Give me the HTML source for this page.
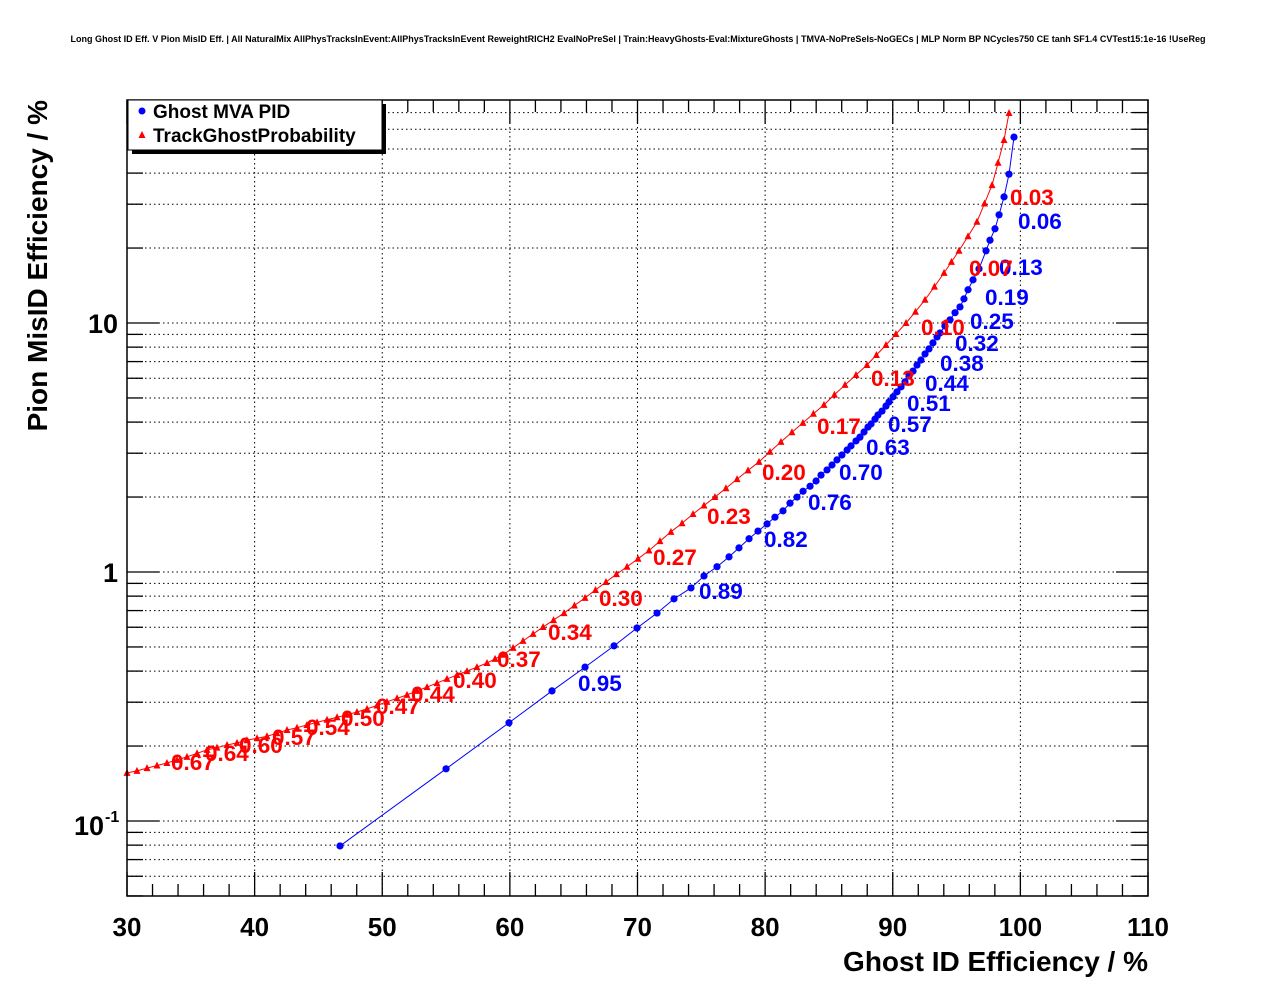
<!DOCTYPE html>
<html><head><meta charset="utf-8"><style>
html,body{margin:0;padding:0;background:#fff;}
svg{display:block;font-family:"Liberation Sans",Arial,sans-serif;}
</style></head><body>
<svg id="chart" width="1276" height="996" viewBox="0 0 1276 996">
<rect x="0" y="0" width="1276" height="996" fill="#fff"/>
<text x="638" y="42" text-anchor="middle" font-size="9" font-weight="bold" textLength="1135" lengthAdjust="spacingAndGlyphs">Long Ghost ID Eff. V Pion MisID Eff. | All NaturalMix AllPhysTracksInEvent:AllPhysTracksInEvent ReweightRICH2 EvalNoPreSel | Train:HeavyGhosts-Eval:MixtureGhosts | TMVA-NoPreSels-NoGECs | MLP Norm BP NCycles750 CE tanh SF1.4 CVTest15:1e-16 !UseReg</text>
<g id="grid"></g>
<g id="ticks"></g>
<g id="series"></g>
<g id="labels"></g>
<rect x="127" y="100" width="1021" height="796" fill="none" stroke="#000" stroke-width="1.5"/>
<text x="1148" y="971" text-anchor="end" font-size="28" font-weight="bold">Ghost ID Efficiency / %</text>
<text transform="translate(47,100) rotate(-90)" text-anchor="end" font-size="28" font-weight="bold">Pion MisID Efficiency / %</text>
<g>
<rect x="132" y="104" width="254" height="50" fill="#000"/>
<rect x="128" y="100" width="254" height="50" fill="#fff" stroke="#000" stroke-width="1"/>
<circle cx="142" cy="111" r="3.5" fill="#0000ff"/>
<text x="153" y="118" font-size="19" font-weight="bold">Ghost MVA PID</text>
<polygon points="142,131 138.5,138 145.5,138" fill="#ff0000"/>
<text x="153" y="142" font-size="19" font-weight="bold">TrackGhostProbability</text>
</g>
</svg>
<script>
const xTicks = [30,40,50,60,70,80,90,100,110];
const blueX = [46.69,55.00,59.93,63.30,65.89,68.16,69.96,71.53,72.86,74.19,75.21,76.23,77.17,77.95,78.74,79.44,80.15,80.77,81.40,81.95,82.50,82.97,83.52,83.99,84.38,84.85,85.24,85.63,86.02,86.42,86.73,87.12,87.43,87.75,88.06,88.30,88.61,88.84,89.16,89.47,89.71,90.02,90.33,90.65,90.96,91.27,91.59,91.90,92.21,92.53,92.84,93.15,93.47,93.70,94.09,94.49,94.88,95.27,95.58,95.90,96.29,96.76,97.31,97.62,98.01,98.33,98.72,99.11,99.50];
const blueY = [0.0794,0.162,0.248,0.333,0.415,0.505,0.596,0.684,0.780,0.863,0.964,1.05,1.15,1.25,1.36,1.46,1.56,1.66,1.76,1.89,2.00,2.11,2.21,2.32,2.45,2.57,2.69,2.82,2.95,3.09,3.21,3.36,3.48,3.65,3.82,3.93,4.11,4.27,4.43,4.64,4.82,5.05,5.29,5.54,5.80,6.12,6.41,6.78,7.10,7.51,7.87,8.32,8.79,9.12,9.72,10.3,11.0,11.6,12.5,13.6,14.9,16.5,19.5,21.5,23.9,27.2,32.1,39.6,55.8];
const redX = [30.00,30.78,31.57,32.35,33.13,33.92,34.70,35.49,36.27,37.05,37.84,38.62,39.40,40.19,40.97,41.75,42.54,43.32,44.10,44.89,45.67,46.46,47.24,48.02,48.81,49.59,50.37,51.16,51.94,52.72,53.51,54.29,55.07,55.86,56.64,57.42,58.21,58.84,59.46,60.25,61.03,61.82,62.60,63.42,64.24,65.06,65.89,66.71,67.53,68.35,69.18,70.04,70.90,71.76,72.62,73.49,74.35,75.21,76.07,76.93,77.80,78.66,79.52,80.38,81.24,82.10,82.96,83.78,84.61,85.43,86.26,87.12,87.98,88.72,89.47,90.25,91.04,91.78,92.53,93.27,94.02,94.60,95.19,95.90,96.60,97.19,97.78,98.25,98.72,99.11];
const redY = [0.156,0.159,0.163,0.167,0.171,0.176,0.181,0.187,0.193,0.197,0.202,0.206,0.211,0.215,0.219,0.225,0.232,0.237,0.243,0.249,0.255,0.261,0.267,0.274,0.282,0.291,0.301,0.311,0.321,0.333,0.345,0.358,0.372,0.386,0.400,0.415,0.431,0.448,0.465,0.496,0.529,0.564,0.601,0.641,0.684,0.734,0.787,0.847,0.912,0.98,1.05,1.13,1.22,1.33,1.45,1.57,1.71,1.85,2.00,2.17,2.36,2.56,2.77,3.04,3.33,3.64,3.97,4.32,4.69,5.15,5.64,6.18,6.78,7.44,8.16,9.03,10.0,11.1,12.4,14.0,15.9,17.6,19.5,22.3,25.5,30.2,35.8,44.0,54.3,69.7];
const redLabels = ["0.03","0.07","0.10","0.13","0.17","0.20","0.23","0.27","0.30","0.34","0.37","0.40","0.44","0.47","0.50","0.54","0.57","0.60","0.64","0.67"];
const redLabelPos = [[1010,197],[969,268],[921,327],[871,378],[817,426],[762,472],[707,516],[653,557],[599,598],[548,632],[497,659],[453,680],[411,694],[376,706],[341,718],[306,727],[272,737],[239,745],[205,753],[171,762]];
const blueLabels = ["0.06","0.13","0.19","0.25","0.32","0.38","0.44","0.51","0.57","0.63","0.70","0.76","0.82","0.89","0.95"];
const blueLabelPos = [[1018,221],[999,267],[985,297],[970,321],[955,343],[940,363],[925,383],[907,403],[888,424],[866,447],[839,472],[808,502],[764,539],[699,591],[578,683]];

const NS="http://www.w3.org/2000/svg";
const X0=127,X1=1148,Y0=100,Y1=896;
const xMin=30,xMax=110;
function sx(v){return X0+(v-xMin)/(xMax-xMin)*(X1-X0);}
function sy(v){return 323-(Math.log10(v)-1)*249;}
function mk(tag,attrs,parent){const e=document.createElementNS(NS,tag);for(const k in attrs)e.setAttribute(k,attrs[k]);parent.appendChild(e);return e;}
const grid=document.getElementById('grid'),ticks=document.getElementById('ticks'),series=document.getElementById('series'),labels=document.getElementById('labels');

for(let v=30;v<=110;v+=2){
  const x=sx(v);const major=(v%10===0);
  const len=major?24:12;
  let t=mk('line',{x1:x,y1:Y1,x2:x,y2:Y1-len,stroke:'#000','stroke-width':1.3},ticks);
  
  
  t=mk('line',{x1:x,y1:Y0,x2:x,y2:Y0+len,stroke:'#000','stroke-width':1.3},ticks);
  
  
  if(major&&v>30&&v<110){
    const g=mk('line',{x1:x,y1:Y0,x2:x,y2:Y1,stroke:'#000','stroke-width':1,'stroke-dasharray':'1.5,3'},grid);
    
    
  }
}
xTicks.forEach(v=>{
  const t=mk('text',{x:sx(v),y:936,'text-anchor':'middle','font-size':26,'font-weight':'bold'},ticks);
  t.textContent=v;
  
  
});
for(let d=-2;d<=1;d++){
  for(let m=1;m<=9;m++){
    const v=m*Math.pow(10,d);const y=sy(v);
    if(y<Y0-0.5||y>Y1+0.5)continue;
    const len=(m===1)?32:16;
    let t=mk('line',{x1:X0,y1:y,x2:X0+len,y2:y,stroke:'#000','stroke-width':1.3},ticks);
    
    
    t=mk('line',{x1:X1,y1:y,x2:X1-len,y2:y,stroke:'#000','stroke-width':1.3},ticks);
    
    
    const g=mk('line',{x1:X0,y1:y,x2:X1,y2:y,stroke:'#000','stroke-width':1,'stroke-dasharray':'1.5,3'},grid);
    
    
  }
}
let yl=mk('text',{x:118,y:333,'text-anchor':'end','font-size':27,'font-weight':'bold'},ticks);yl.textContent='10';


yl=mk('text',{x:118,y:582,'text-anchor':'end','font-size':27,'font-weight':'bold'},ticks);yl.textContent='1';


yl=mk('text',{x:104,y:835,'text-anchor':'end','font-size':27,'font-weight':'bold'},ticks);yl.textContent='10';


yl=mk('text',{x:105,y:822,'font-size':16,'font-weight':'bold'},ticks);yl.textContent='-1';



let pts=redX.map((v,i)=>sx(v)+','+sy(redY[i])).join(' ');
let pl=mk('polyline',{points:pts,fill:'none',stroke:'#ff0000','stroke-width':1},series);


redX.forEach((v,i)=>{
  const x=sx(v),y=sy(redY[i]);
  const p=mk('polygon',{points:`${x},${y-4} ${x-3.5},${y+3} ${x+3.5},${y+3}`,fill:'#ff0000'},series);
  
  
});
pts=blueX.map((v,i)=>sx(v)+','+sy(blueY[i])).join(' ');
pl=mk('polyline',{points:pts,fill:'none',stroke:'#0000ff','stroke-width':1},series);


blueX.forEach((v,i)=>{
  const c=mk('circle',{cx:sx(v),cy:sy(blueY[i]),r:3.6,fill:'#0000ff'},series);
  
  
});
blueLabels.forEach((s,i)=>{
  const t=mk('text',{x:blueLabelPos[i][0],y:blueLabelPos[i][1]+8,'font-size':22.5,'font-weight':'bold',fill:'#0000ff'},labels);
  t.textContent=s;
  
  
});
redLabels.forEach((s,i)=>{
  const t=mk('text',{x:redLabelPos[i][0],y:redLabelPos[i][1]+8,'font-size':22.5,'font-weight':'bold',fill:'#ff0000'},labels);
  t.textContent=s;
  
  
});
</script>
</body></html>
